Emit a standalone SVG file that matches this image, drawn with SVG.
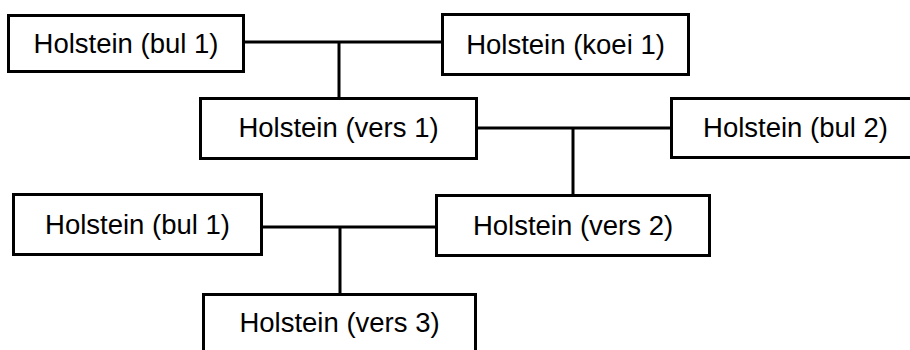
<svg xmlns="http://www.w3.org/2000/svg" width="910" height="350" viewBox="0 0 910 350">
<style>
.box{fill:#fff;stroke:#000;stroke-width:3}
.lbl{font-family:"Liberation Sans",Arial,sans-serif;font-size:27.5px;fill:#000;text-anchor:middle}
.con{stroke:#000;stroke-width:3;fill:none}
</style>
<rect width="910" height="350" fill="#fff"/>
<g id="connectors">
<line class="con" x1="245" y1="42" x2="441" y2="42"/>
<line class="con" x1="339" y1="42" x2="339" y2="98"/>
<line class="con" x1="478" y1="128" x2="670" y2="128"/>
<line class="con" x1="573" y1="128" x2="573" y2="195"/>
<line class="con" x1="263" y1="227" x2="435" y2="227"/>
<line class="con" x1="340" y1="227" x2="340" y2="294"/>
</g>
<g id="bul1a"><rect class="box" x="8.5" y="15.5" width="235" height="56"/><text class="lbl" x="126" y="53">Holstein (bul 1)</text></g>
<g id="koei1"><rect class="box" x="442.5" y="14.5" width="246" height="60"/><text class="lbl" x="565.5" y="54">Holstein (koei 1)</text></g>
<g id="vers1"><rect class="box" x="200.5" y="98.5" width="276" height="60"/><text class="lbl" x="338.5" y="137">Holstein (vers 1)</text></g>
<g id="bul2"><rect class="box" x="671.5" y="98.5" width="247" height="59"/><text class="lbl" x="795.5" y="137">Holstein (bul 2)</text></g>
<g id="bul1b"><rect class="box" x="13.5" y="194.5" width="248" height="60"/><text class="lbl" x="137.5" y="233.5">Holstein (bul 1)</text></g>
<g id="vers2"><rect class="box" x="436.5" y="195.5" width="273" height="60"/><text class="lbl" x="573" y="235">Holstein (vers 2)</text></g>
<g id="vers3"><rect class="box" x="203.5" y="294.5" width="272" height="60"/><text class="lbl" x="339.5" y="332">Holstein (vers 3)</text></g>
</svg>
